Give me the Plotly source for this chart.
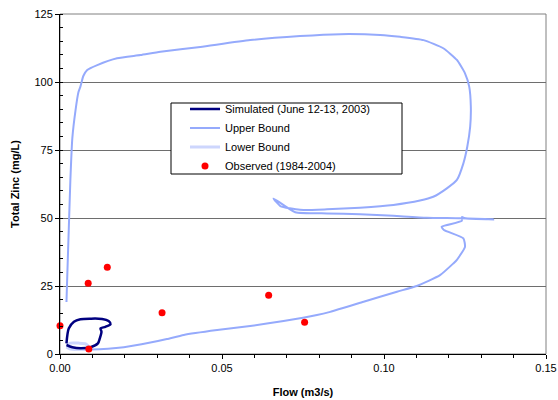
import plotly.graph_objects as go

# ---- data ----
sim_flow = [0.0020, 0.0027, 0.0043, 0.0063, 0.0094, 0.0130, 0.0150, 0.0156, 0.0140, 0.0125,
            0.0128, 0.0123, 0.0117, 0.0094, 0.0063, 0.0038, 0.0020]
sim_zinc = [3.9, 9.4, 11.9, 12.8, 13.0, 12.9, 12.1, 11.0, 10.0, 9.4,
            8.2, 5.8, 3.9, 2.5, 2.1, 2.5, 3.3]

upper_flow = [0.0020, 0.0023, 0.0027, 0.0032, 0.0038, 0.0048, 0.0057, 0.0063, 0.0072, 0.0084,
              0.0115, 0.0176, 0.0248, 0.0310, 0.0433, 0.0587, 0.0741, 0.0865, 0.0988, 0.1050,
              0.1122, 0.1183, 0.1225, 0.1250, 0.1263, 0.1268, 0.1266, 0.1257, 0.1245, 0.1225,
              0.1194, 0.1152, 0.1111, 0.1029, 0.0926, 0.0824, 0.0741, 0.0680, 0.0659, 0.0726,
              0.0824, 0.0926, 0.1029, 0.1132, 0.1235, 0.1337, 0.1250, 0.1241, 0.1240, 0.1178,
              0.1185, 0.1245, 0.1250, 0.1225, 0.1214, 0.1173, 0.1101, 0.1040, 0.0937, 0.0834,
              0.0793, 0.0690, 0.0587, 0.0485, 0.0382, 0.0330, 0.0279, 0.0197, 0.0094, 0.0048,
              0.0026]
upper_zinc = [19.1, 30.9, 45.6, 64.0, 79.3, 89.7, 96.3, 98.3, 102.2, 104.4,
              106.2, 108.7, 109.9, 111.1, 112.9, 115.4, 116.9, 117.6, 117.3, 116.6,
              115.4, 112.4, 108.1, 103.2, 98.3, 90.9, 83.6, 76.2, 70.1, 64.0,
              60.9, 57.8, 56.4, 54.8, 53.8, 53.2, 53.0, 54.4, 57.2, 52.1,
              51.7, 51.4, 50.8, 50.1, 49.9, 49.5, 49.9, 50.4, 48.9, 46.8,
              45.6, 42.5, 39.4, 34.6, 33.3, 29.0, 25.0, 22.9, 19.2, 15.5,
              14.3, 12.1, 10.3, 8.8, 7.0, 5.5, 4.2, 2.5, 1.7, 1.8,
              2.6]

lower_flow = [0.0020, 0.0032, 0.0057, 0.0079, 0.0088, 0.0063, 0.0032, 0.0020]
lower_zinc = [3.3, 4.0, 4.0, 3.7, 2.6, 1.8, 1.8, 2.6]

obs_flow = [0.0, 0.0087, 0.0146, 0.0315, 0.0089, 0.0644, 0.0755]
obs_zinc = [10.4, 26.0, 31.9, 15.2, 1.8, 21.6, 11.7]

x_ticks = [0.0, 0.05, 0.10, 0.15]
x_tick_labels = ["0.00", "0.05", "0.10", "0.15"]
y_ticks = [0, 25, 50, 75, 100, 125]

FONT = "Liberation Sans, Arial, sans-serif"

fig = go.Figure()
fig.add_trace(go.Scatter(x=upper_flow, y=upper_zinc, mode="lines", name="Upper Bound",
                         line=dict(color="#95aafc", width=2, shape="spline", smoothing=0.5),
                         legendrank=2))
fig.add_trace(go.Scatter(x=lower_flow, y=lower_zinc, mode="lines", name="Lower Bound",
                         line=dict(color="#cdd6fd", width=3, shape="spline", smoothing=0.8),
                         legendrank=3))
fig.add_trace(go.Scatter(x=sim_flow, y=sim_zinc, mode="lines", name="Simulated (June 12-13, 2003)",
                         line=dict(color="#000080", width=2.5, shape="spline", smoothing=0.8),
                         legendrank=1))
fig.add_trace(go.Scatter(x=obs_flow, y=obs_zinc, mode="markers", name="Observed (1984-2004)",
                         marker=dict(color="#ff0000", size=7, line=dict(width=0)),
                         cliponaxis=False, legendrank=4))

axis_font = dict(family=FONT, size=11, color="#000000")
title_font = dict(family=FONT, size=11, color="#000000", weight="bold")

L, R, T, B = 60, 12, 14, 46
PW, PH = 558 - L - R, 400 - T - B

fig.update_layout(
    width=558, height=400,
    margin=dict(l=L, r=R, t=T, b=B, autoexpand=False),
    paper_bgcolor="white", plot_bgcolor="white",
    font=axis_font,
    showlegend=True,
    legend=dict(x=(185 - L) / PW, y=(400 - B - 94.5) / PH, xanchor="left", yanchor="top",
                bgcolor="rgba(0,0,0,0)", borderwidth=0,
                font=dict(family=FONT, size=11, color="#000000"),
                traceorder="normal", tracegroupgap=0),
    xaxis=dict(range=[0, 0.15], tickvals=x_ticks, ticktext=x_tick_labels, automargin=False,
               showgrid=False, zeroline=False, showline=True, linecolor="#000000", linewidth=1,
               ticks="outside", ticklen=4, tickcolor="#000000",
               minor=dict(dtick=0.01, ticks="outside", ticklen=3, tickcolor="#000000", showgrid=False),
               tickfont=axis_font,
               title=dict(text="Flow (m3/s)", font=title_font, standoff=15)),
    yaxis=dict(range=[0, 125], tickvals=y_ticks, automargin=False,
               showgrid=True, gridcolor="#6e6e6e", gridwidth=1,
               zeroline=False, showline=True, linecolor="#000000", linewidth=1,
               ticks="outside", ticklen=4, tickcolor="#000000",
               minor=dict(dtick=5, ticks="inside", ticklen=3, tickcolor="#000000", showgrid=False),
               tickfont=axis_font,
               title=dict(text="Total Zinc (mg/L)", font=title_font, standoff=12)),
    shapes=[
        dict(type="rect", xref="paper", yref="paper", x0=0, x1=1, y0=0, y1=1,
             line=dict(color="#808080", width=1), fillcolor="rgba(0,0,0,0)", layer="below"),
        dict(type="rect", xref="paper", yref="paper",
             x0=(171 - L) / PW, x1=(402 - L) / PW,
             y0=(400 - B - 174) / PH, y1=(400 - B - 103) / PH,
             line=dict(color="#000000", width=1), fillcolor="white", layer="above"),
    ],
)

fig.write_html("out.html", config={"displayModeBar": False},
               post_script="document.body.style.margin='0px';")
